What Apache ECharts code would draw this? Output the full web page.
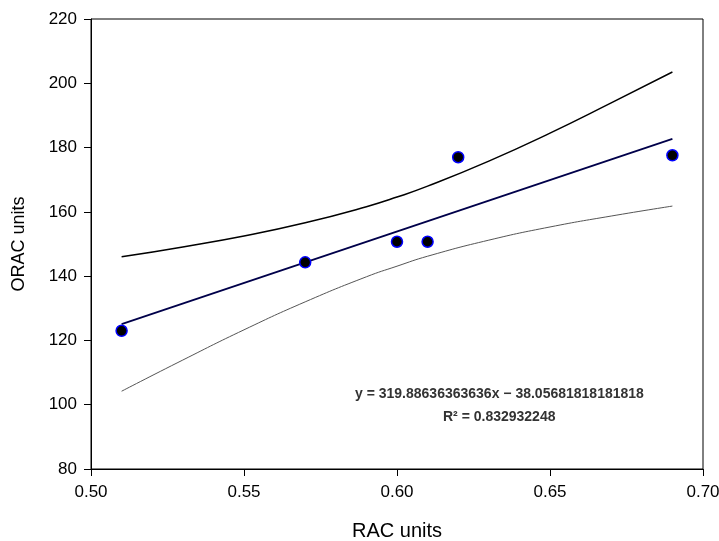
<!DOCTYPE html>
<html>
<head>
<meta charset="utf-8">
<script src="https://cdn.jsdelivr.net/npm/echarts@6/dist/echarts.min.js"></script>
<style>
html,body{margin:0;padding:0;background:#fff;}
#chart{width:719px;height:541px;}
</style>
</head>
<body>
<div id="chart"></div>
<script>
// Observed data (RAC units vs ORAC units)
var racValues = [0.51, 0.57, 0.60, 0.61, 0.62, 0.69];
var oracValues = [123.0, 144.3, 150.7, 150.7, 177.0, 177.6];

// Regression line end points
var fitX = [0.51, 0.69];
var fitY = [125.1, 182.7];

// Confidence band curves
var bandX = [0.51, 0.53, 0.55, 0.57, 0.59, 0.60, 0.61, 0.63, 0.65, 0.67, 0.69];
var upperY = [146.0, 149.1, 152.5, 156.6, 161.6, 164.6, 168.0, 175.8, 184.5, 193.9, 203.5];
var lowerY = [104.2, 113.9, 123.3, 132.0, 139.8, 143.1, 146.2, 151.2, 155.3, 158.7, 161.8];

// Axis settings
var xTicks = [0.50, 0.55, 0.60, 0.65, 0.70];
var yTicks = [80, 100, 120, 140, 160, 180, 200, 220];
var xTitle = 'RAC units';
var yTitle = 'ORAC units';
var eqLine1 = 'y = 319.88636363636x \u2212 38.05681818181818';
var eqLine2 = 'R\u00b2 = 0.832932248';

function zip(a, b) { return a.map(function (v, i) { return [v, b[i]]; }); }

var chart = echarts.init(document.getElementById('chart'), null, {renderer: 'canvas'});
var font = 'Liberation Sans, Arial, sans-serif';
chart.setOption({
  animation: false,
  backgroundColor: '#fff',
  textStyle: {fontFamily: font},
  grid: {left: 91, right: 16, top: 19, bottom: 72, show: true, borderColor: '#000', borderWidth: 1,
    containLabel: false, outerBoundsMode: 'none'},
  xAxis: {
    type: 'value', min: xTicks[0], max: xTicks[xTicks.length - 1], interval: 0.05,
    name: xTitle, nameLocation: 'middle', nameGap: 52,
    nameTextStyle: {fontSize: 20, color: '#000', fontFamily: font},
    axisLine: {lineStyle: {color: '#000', width: 1}},
    axisTick: {show: true, inside: false, length: 7, lineStyle: {color: '#000'}},
    axisLabel: {fontSize: 17, color: '#000', margin: 15, fontFamily: font,
      formatter: function (v) { return v.toFixed(2); }},
    splitLine: {show: false}
  },
  yAxis: {
    type: 'value', min: yTicks[0], max: yTicks[yTicks.length - 1], interval: 20,
    name: yTitle, nameLocation: 'middle', nameGap: 63, nameRotate: 90,
    nameTextStyle: {fontSize: 18, color: '#000', fontFamily: font},
    axisLine: {lineStyle: {color: '#000', width: 1}},
    axisTick: {show: true, inside: false, length: 7, lineStyle: {color: '#000'}},
    axisLabel: {fontSize: 17, color: '#000', margin: 14, fontFamily: font},
    splitLine: {show: false}
  },
  graphic: [
    {type: 'text', left: 355, top: 387, style: {text: eqLine1, fontSize: 14, fill: '#333', fontFamily: font, fontWeight: 'bold'}},
    {type: 'text', left: 443, top: 410, style: {text: eqLine2, fontSize: 14, fill: '#333', fontFamily: font, fontWeight: 'bold'}}
  ],
  series: [
    {type: 'line', data: zip(bandX, upperY), smooth: true, showSymbol: false,
      lineStyle: {color: '#000', width: 1.5}, z: 2},
    {type: 'line', data: zip(bandX, lowerY), smooth: true, showSymbol: false,
      lineStyle: {color: '#555', width: 1}, z: 2},
    {type: 'line', data: zip(fitX, fitY), showSymbol: false,
      lineStyle: {color: '#00004a', width: 1.8}, z: 3},
    {type: 'scatter', data: zip(racValues, oracValues), symbol: 'circle', symbolSize: 11,
      itemStyle: {color: '#000', borderColor: '#0000ff', borderWidth: 1.5, opacity: 1}, z: 5}
  ]
});
</script>
</body>
</html>
